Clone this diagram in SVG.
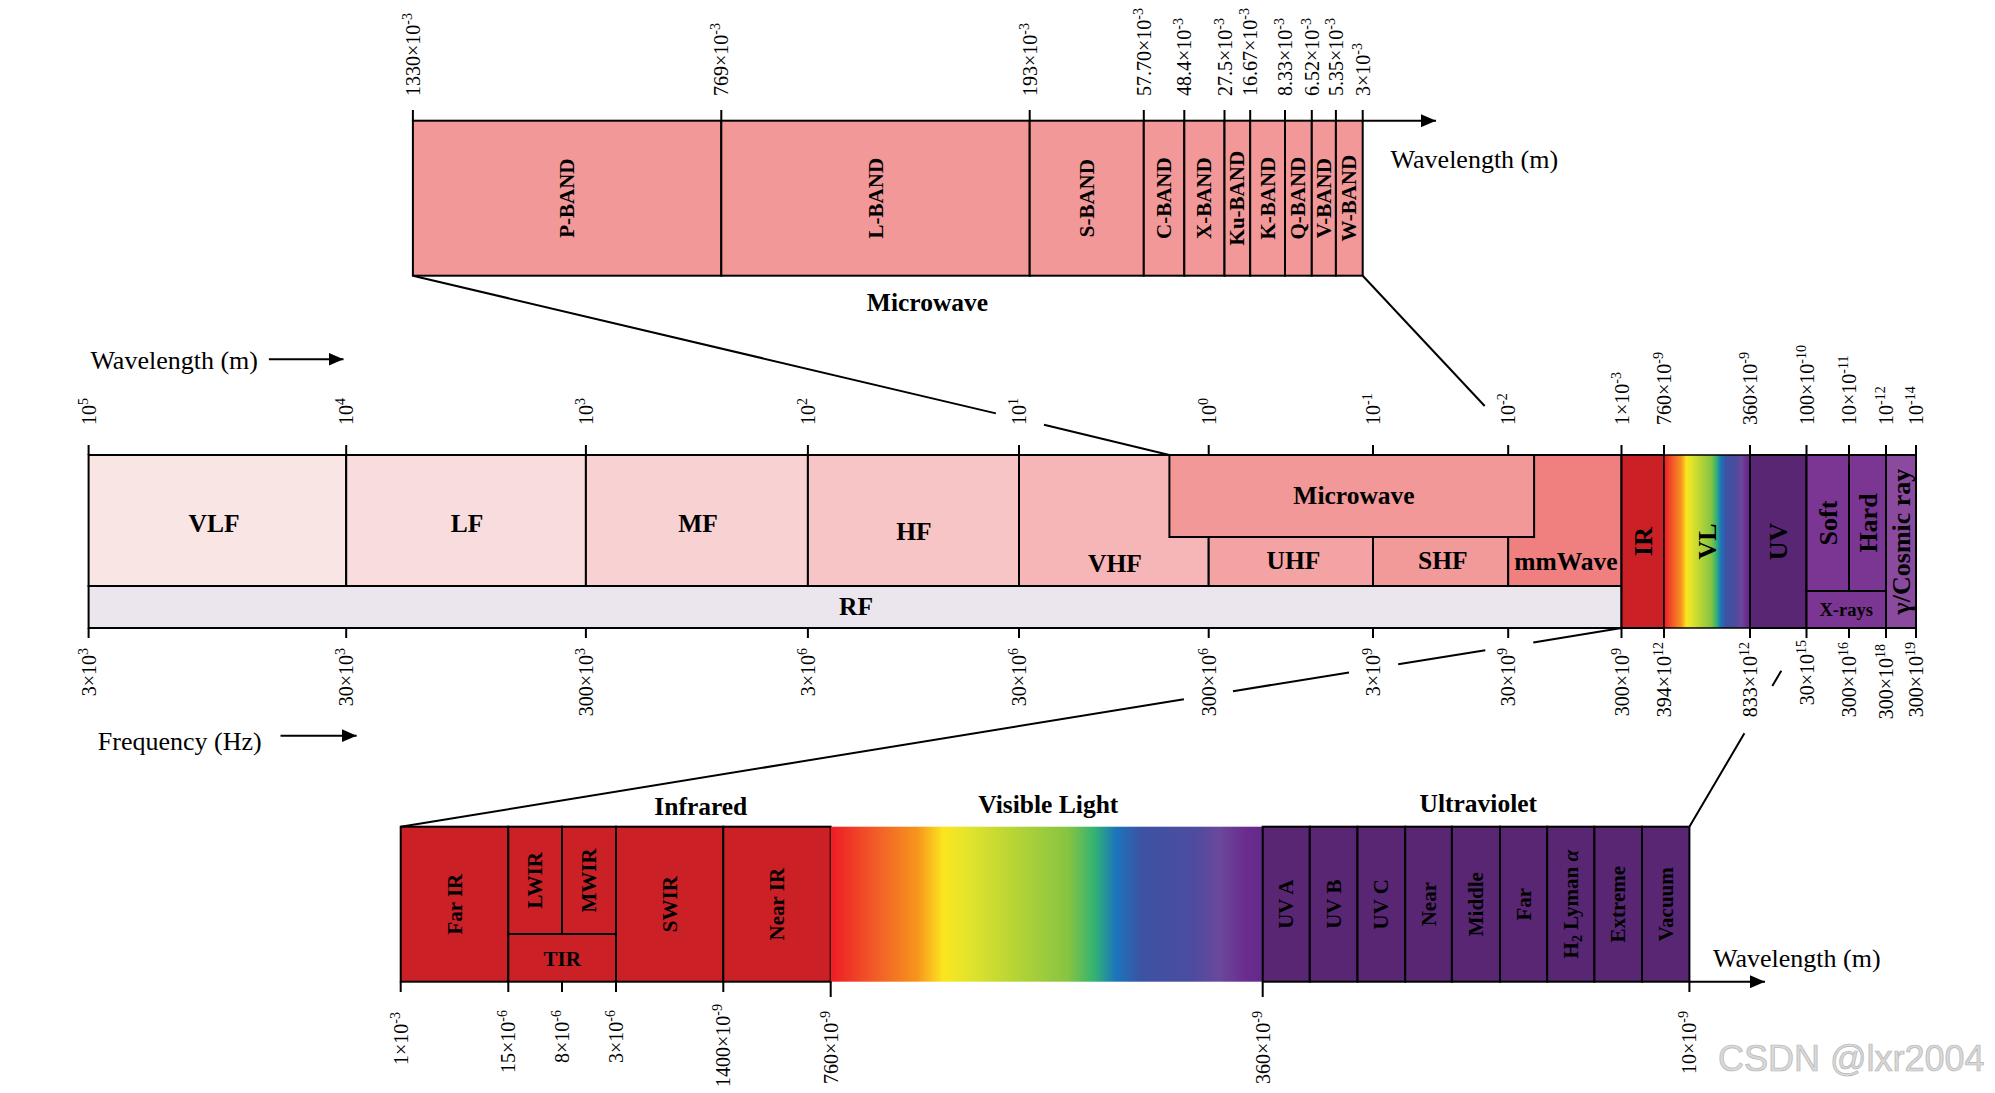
<svg xmlns="http://www.w3.org/2000/svg" width="1995" height="1093" viewBox="0 0 1995 1093">
<defs>
<style>
text{font-family:"Liberation Serif","Times New Roman",serif;fill:#000}
.t{font-size:20px}
.s{font-size:14px}
.b{font-weight:bold;font-size:25.5px}
.bv{font-weight:bold;font-size:21px}
.bm{font-weight:bold;font-size:26px}
.ax{font-size:26px}
text.wm{font-family:"Liberation Sans",Arial,sans-serif;font-size:36px;fill:#D9D9D9;stroke:#B5B5B5;stroke-width:0.7}
.box{stroke:#000;stroke-width:2}
.tk{stroke:#000;stroke-width:2;fill:none}
.cn{stroke:#000;stroke-width:2;fill:none}
.ir{fill:#CC2027}
.uv{fill:#582673}
.xr{fill:#7B3592}
.mw{fill:#F29898}
</style>
<marker id="ah" markerUnits="userSpaceOnUse" markerWidth="15" markerHeight="13" refX="15" refY="6.5" orient="auto">
<path d="M0,0 L15,6.5 L0,13 Z" fill="#000"/>
</marker>
<linearGradient id="vl" x1="0" y1="0" x2="1" y2="0">
<stop offset="0" stop-color="#ED1C24"/>
<stop offset="0.1" stop-color="#F15A29"/>
<stop offset="0.2" stop-color="#F7941D"/>
<stop offset="0.26" stop-color="#FBE51E"/>
<stop offset="0.31" stop-color="#E6E52A"/>
<stop offset="0.42" stop-color="#B9D535"/>
<stop offset="0.55" stop-color="#86C442"/>
<stop offset="0.61" stop-color="#33B372"/>
<stop offset="0.66" stop-color="#1B75BB"/>
<stop offset="0.72" stop-color="#3C52A3"/>
<stop offset="0.84" stop-color="#4D4C9F"/>
<stop offset="0.9" stop-color="#6A489B"/>
<stop offset="0.96" stop-color="#6B2C8E"/>
<stop offset="1" stop-color="#64298D"/>
</linearGradient>
</defs>
<rect width="1995" height="1093" fill="#fff"/>

<!-- ============ TOP: Microwave bands ============ -->
<g id="top-bar">
<g id="p-band"><rect class="box mw" x="412.9" y="120.7" width="308.4" height="155"/><text class="bv" transform="translate(574.1,198.2) rotate(-90)" text-anchor="middle">P-BAND</text></g>
<g id="l-band"><rect class="box mw" x="721.3" y="120.7" width="308.4" height="155"/><text class="bv" transform="translate(882.5,198.2) rotate(-90)" text-anchor="middle">L-BAND</text></g>
<g id="s-band"><rect class="box mw" x="1029.7" y="120.7" width="114.1" height="155"/><text class="bv" transform="translate(1093.8,198.2) rotate(-90)" text-anchor="middle">S-BAND</text></g>
<g id="c-band"><rect class="box mw" x="1143.8" y="120.7" width="40.5" height="155"/><text class="bv" transform="translate(1171,198.2) rotate(-90)" text-anchor="middle">C-BAND</text></g>
<g id="x-band"><rect class="box mw" x="1184.3" y="120.7" width="40.2" height="155"/><text class="bv" transform="translate(1211.4,198.2) rotate(-90)" text-anchor="middle">X-BAND</text></g>
<g id="ku-band"><rect class="box mw" x="1224.5" y="120.7" width="25.7" height="155"/><text class="bv" transform="translate(1244.4,198.2) rotate(-90)" text-anchor="middle">Ku-BAND</text></g>
<g id="k-band"><rect class="box mw" x="1250.2" y="120.7" width="34.8" height="155"/><text class="bv" transform="translate(1274.6,198.2) rotate(-90)" text-anchor="middle">K-BAND</text></g>
<g id="q-band"><rect class="box mw" x="1285" y="120.7" width="26.8" height="155"/><text class="bv" transform="translate(1305.4,198.2) rotate(-90)" text-anchor="middle">Q-BAND</text></g>
<g id="v-band"><rect class="box mw" x="1311.8" y="120.7" width="24.1" height="155"/><text class="bv" transform="translate(1330.9,198.2) rotate(-90)" text-anchor="middle">V-BAND</text></g>
<g id="w-band"><rect class="box mw" x="1335.9" y="120.7" width="26.8" height="155"/><text class="bv" transform="translate(1356.3,198.2) rotate(-90)" text-anchor="middle">W-BAND</text></g>
<text class="b" x="927.5" y="310.5" text-anchor="middle">Microwave</text>
<line class="tk" x1="1362.7" y1="120.7" x2="1436" y2="120.7" marker-end="url(#ah)"/>
<text class="ax" x="1390.6" y="168">Wavelength (m)</text>
<path class="tk" d="M412.9,110V120.7M721.3,110V120.7M1029.7,110V120.7M1143.8,110V120.7M1184.3,110V120.7M1224.5,110V120.7M1250.2,110V120.7M1285,110V120.7M1311.8,110V120.7M1335.9,110V120.7M1362.7,110V120.7"/>
<text class="t" transform="translate(419.9,96) rotate(-90)">1330×10<tspan class="s" dy="-8">-3</tspan></text>
<text class="t" transform="translate(728.3,96) rotate(-90)">769×10<tspan class="s" dy="-8">-3</tspan></text>
<text class="t" transform="translate(1036.7,96) rotate(-90)">193×10<tspan class="s" dy="-8">-3</tspan></text>
<text class="t" transform="translate(1150.8,96) rotate(-90)">57.70×10<tspan class="s" dy="-8">-3</tspan></text>
<text class="t" transform="translate(1191.3,96) rotate(-90)">48.4×10<tspan class="s" dy="-8">-3</tspan></text>
<text class="t" transform="translate(1231.5,96) rotate(-90)">27.5×10<tspan class="s" dy="-8">-3</tspan></text>
<text class="t" transform="translate(1257.2,96) rotate(-90)">16.67×10<tspan class="s" dy="-8">-3</tspan></text>
<text class="t" transform="translate(1292,96) rotate(-90)">8.33×10<tspan class="s" dy="-8">-3</tspan></text>
<text class="t" transform="translate(1318.8,96) rotate(-90)">6.52×10<tspan class="s" dy="-8">-3</tspan></text>
<text class="t" transform="translate(1342.9,96) rotate(-90)">5.35×10<tspan class="s" dy="-8">-3</tspan></text>
<text class="t" transform="translate(1369.7,96) rotate(-90)">3×10<tspan class="s" dy="-8">-3</tspan></text>
</g>

<!-- ============ MIDDLE: full spectrum ============ -->
<g id="axis-labels">
<text class="ax" x="90.4" y="368.5">Wavelength (m)</text>
<line class="tk" x1="268.9" y1="359.3" x2="343.5" y2="359.3" marker-end="url(#ah)"/>
<text class="ax" x="97.8" y="750">Frequency (Hz)</text>
<line class="tk" x1="280.5" y1="735.7" x2="356.6" y2="735.7" marker-end="url(#ah)"/>
</g>
<g id="vlf"><rect class="box" x="88.6" y="455" width="257.6" height="131" fill="#FAE5E5"/><text class="b" x="214" y="532" text-anchor="middle">VLF</text></g>
<g id="lf"><rect class="box" x="346.2" y="455" width="239.7" height="131" fill="#F9DCDD"/><text class="b" x="467" y="532" text-anchor="middle">LF</text></g>
<g id="mf"><rect class="box" x="585.9" y="455" width="222" height="131" fill="#F8D2D2"/><text class="b" x="698" y="532" text-anchor="middle">MF</text></g>
<g id="hf"><rect class="box" x="807.9" y="455" width="211.1" height="131" fill="#F7C5C6"/><text class="b" x="914" y="540" text-anchor="middle">HF</text></g>
<g id="vhf"><rect class="box" x="1019" y="455" width="189.7" height="131" fill="#F6B5B6"/><text class="b" x="1115" y="572" text-anchor="middle">VHF</text></g>
<g id="uhf"><rect class="box" x="1208.7" y="537" width="164.3" height="49" fill="#F4A3A4"/><text class="b" x="1293.5" y="569" text-anchor="middle">UHF</text></g>
<g id="shf"><rect class="box" x="1373" y="537" width="135.2" height="49" fill="#F29999"/><text class="b" x="1442.8" y="569" text-anchor="middle">SHF</text></g>
<g id="mmwave"><rect class="box" x="1508.2" y="455" width="113.3" height="131" fill="#F08080"/><text class="b" x="1566" y="570" text-anchor="middle">mmWave</text></g>
<g id="microwave"><rect class="box mw" x="1169.4" y="455" width="364.7" height="82"/><text class="b" x="1354" y="504" text-anchor="middle">Microwave</text></g>
<g id="rf"><rect class="box" x="88.6" y="586" width="1532.9" height="42" fill="#EBE6EE"/><text class="b" x="856" y="615" text-anchor="middle">RF</text></g>
<g id="ir"><rect class="box ir" x="1621.5" y="455" width="42.5" height="173"/><text class="bm" transform="translate(1651.7,541.5) rotate(-90)" text-anchor="middle">IR</text></g>
<g id="vl"><rect x="1664" y="455" width="86" height="173" fill="url(#vl)" stroke="#000" stroke-width="1.5"/><text class="bm" transform="translate(1716,541.5) rotate(-90)" text-anchor="middle">VL</text></g>
<g id="uv"><rect class="box uv" x="1750" y="455" width="56.5" height="173"/><text class="bm" transform="translate(1787.2,541.5) rotate(-90)" text-anchor="middle">UV</text></g>
<g id="soft"><rect class="box xr" x="1806.5" y="455" width="42.5" height="136"/><text class="bm" transform="translate(1836.7,523) rotate(-90)" text-anchor="middle">Soft</text></g>
<g id="hard"><rect class="box xr" x="1849" y="455" width="37" height="136"/><text class="bm" transform="translate(1876.5,523) rotate(-90)" text-anchor="middle">Hard</text></g>
<g id="x-rays"><rect class="box xr" x="1806.5" y="591" width="79.5" height="37"/><text x="1846.2" y="616" text-anchor="middle" font-weight="bold" font-size="18.5">X-rays</text></g>
<g id="gamma"><rect class="box" x="1886" y="455" width="30" height="173" fill="#8A4B9E"/><text class="bm" transform="translate(1910,541.5) rotate(-90)" text-anchor="middle">γ/Cosmic ray</text></g>
<g id="mid-ticks">
<path class="tk" d="M88.6,445V455M346.2,445V455M585.9,445V455M807.9,445V455M1019,445V455M1208.7,445V455M1373,445V455M1508.2,445V455M1621.5,445V455M1664,445V455M1750,445V455M1806.5,445V455M1849,445V455M1886,445V455M1916,445V455"/>
<path class="tk" d="M88.6,628V638M346.2,628V638M585.9,628V638M807.9,628V638M1019,628V638M1208.7,628V638M1373,628V638M1508.2,628V638M1621.5,628V638M1664,628V638M1750,628V638M1806.5,628V638M1849,628V638M1886,628V638M1916,628V638"/>
<text class="t" transform="translate(95.6,425) rotate(-90)">10<tspan class="s" dy="-8">5</tspan></text>
<text class="t" transform="translate(353.2,425) rotate(-90)">10<tspan class="s" dy="-8">4</tspan></text>
<text class="t" transform="translate(592.9,425) rotate(-90)">10<tspan class="s" dy="-8">3</tspan></text>
<text class="t" transform="translate(814.9,425) rotate(-90)">10<tspan class="s" dy="-8">2</tspan></text>
<text class="t" transform="translate(1026,425) rotate(-90)">10<tspan class="s" dy="-8">1</tspan></text>
<text class="t" transform="translate(1215.7,425) rotate(-90)">10<tspan class="s" dy="-8">0</tspan></text>
<text class="t" transform="translate(1380,425) rotate(-90)">10<tspan class="s" dy="-8">-1</tspan></text>
<text class="t" transform="translate(1515.2,425) rotate(-90)">10<tspan class="s" dy="-8">-2</tspan></text>
<text class="t" transform="translate(1628.5,425) rotate(-90)">1×10<tspan class="s" dy="-8">-3</tspan></text>
<text class="t" transform="translate(1671,425) rotate(-90)">760×10<tspan class="s" dy="-8">-9</tspan></text>
<text class="t" transform="translate(1757,425) rotate(-90)">360×10<tspan class="s" dy="-8">-9</tspan></text>
<text class="t" transform="translate(1813.5,425) rotate(-90)">100×10<tspan class="s" dy="-8">-10</tspan></text>
<text class="t" transform="translate(1856,425) rotate(-90)">10×10<tspan class="s" dy="-8">-11</tspan></text>
<text class="t" transform="translate(1893,425) rotate(-90)">10<tspan class="s" dy="-8">-12</tspan></text>
<text class="t" transform="translate(1923,425) rotate(-90)">10<tspan class="s" dy="-8">-14</tspan></text>
<g text-anchor="end">
<text class="t" transform="translate(95.6,648) rotate(-90)">3×10<tspan class="s" dy="-8">3</tspan></text>
<text class="t" transform="translate(353.2,648) rotate(-90)">30×10<tspan class="s" dy="-8">3</tspan></text>
<text class="t" transform="translate(592.9,648) rotate(-90)">300×10<tspan class="s" dy="-8">3</tspan></text>
<text class="t" transform="translate(814.9,648) rotate(-90)">3×10<tspan class="s" dy="-8">6</tspan></text>
<text class="t" transform="translate(1026,648) rotate(-90)">30×10<tspan class="s" dy="-8">6</tspan></text>
<text class="t" transform="translate(1215.7,648) rotate(-90)">300×10<tspan class="s" dy="-8">6</tspan></text>
<text class="t" transform="translate(1380,648) rotate(-90)">3×10<tspan class="s" dy="-8">9</tspan></text>
<text class="t" transform="translate(1515.2,648) rotate(-90)">30×10<tspan class="s" dy="-8">9</tspan></text>
<text class="t" transform="translate(1628.5,648) rotate(-90)">300×10<tspan class="s" dy="-8">9</tspan></text>
<text class="t" transform="translate(1671,642) rotate(-90)">394×10<tspan class="s" dy="-8">12</tspan></text>
<text class="t" transform="translate(1757,642) rotate(-90)">833×10<tspan class="s" dy="-8">12</tspan></text>
<text class="t" transform="translate(1813.5,640) rotate(-90)">30×10<tspan class="s" dy="-8">15</tspan></text>
<text class="t" transform="translate(1856,642) rotate(-90)">300×10<tspan class="s" dy="-8">16</tspan></text>
<text class="t" transform="translate(1893,644) rotate(-90)">300×10<tspan class="s" dy="-8">18</tspan></text>
<text class="t" transform="translate(1923,642) rotate(-90)">300×10<tspan class="s" dy="-8">19</tspan></text>
</g>
</g>

<!-- ============ BOTTOM: IR / VL / UV ============ -->
<g id="far-ir"><rect class="box ir" x="400.7" y="826.7" width="107.6" height="155"/><text class="bv" transform="translate(461.5,904.2) rotate(-90)" text-anchor="middle">Far IR</text></g>
<g id="lwir"><rect class="box ir" x="508.3" y="826.7" width="53.7" height="107.3"/><text class="bv" transform="translate(542.2,880.4) rotate(-90)" text-anchor="middle">LWIR</text></g>
<g id="mwir"><rect class="box ir" x="562" y="826.7" width="54" height="107.3"/><text class="bv" transform="translate(596,880.4) rotate(-90)" text-anchor="middle">MWIR</text></g>
<g id="tir"><rect class="box ir" x="508.3" y="934" width="107.7" height="47.7"/><text x="562.2" y="965.7" text-anchor="middle" font-weight="bold" font-size="21">TIR</text></g>
<g id="swir"><rect class="box ir" x="616" y="826.7" width="107.3" height="155"/><text class="bv" transform="translate(676.7,904.2) rotate(-90)" text-anchor="middle">SWIR</text></g>
<g id="near-ir"><rect class="box ir" x="723.3" y="826.7" width="107.4" height="155"/><text class="bv" transform="translate(784,904.2) rotate(-90)" text-anchor="middle">Near IR</text></g>
<g id="visible-light"><rect x="830.7" y="826.7" width="432" height="155" fill="url(#vl)"/></g>
<g id="uv-a"><rect class="box uv" x="1262.7" y="826.7" width="47.1" height="155"/><text class="bv" transform="translate(1293.3,904.2) rotate(-90)" text-anchor="middle">UV A</text></g>
<g id="uv-b"><rect class="box uv" x="1309.8" y="826.7" width="47.7" height="155"/><text class="bv" transform="translate(1340.7,904.2) rotate(-90)" text-anchor="middle">UV B</text></g>
<g id="uv-c"><rect class="box uv" x="1357.5" y="826.7" width="47.7" height="155"/><text class="bv" transform="translate(1388.4,904.2) rotate(-90)" text-anchor="middle">UV C</text></g>
<g id="near-uv"><rect class="box uv" x="1405.2" y="826.7" width="46.7" height="155"/><text class="bv" transform="translate(1435.6,904.2) rotate(-90)" text-anchor="middle">Near</text></g>
<g id="middle-uv"><rect class="box uv" x="1451.9" y="826.7" width="48.1" height="155"/><text class="bv" transform="translate(1483,904.2) rotate(-90)" text-anchor="middle">Middle</text></g>
<g id="far-uv"><rect class="box uv" x="1500" y="826.7" width="47.2" height="155"/><text class="bv" transform="translate(1530.6,904.2) rotate(-90)" text-anchor="middle">Far</text></g>
<g id="h2-lyman"><rect class="box uv" x="1547.2" y="826.7" width="47.2" height="155"/><text class="bv" transform="translate(1577.8,904.2) rotate(-90)" text-anchor="middle">H<tspan font-size="14" dy="4">2</tspan><tspan dy="-4"> Lyman </tspan><tspan font-style="italic">α</tspan></text></g>
<g id="extreme-uv"><rect class="box uv" x="1594.4" y="826.7" width="47.6" height="155"/><text class="bv" transform="translate(1625.2,904.2) rotate(-90)" text-anchor="middle">Extreme</text></g>
<g id="vacuum-uv"><rect class="box uv" x="1642" y="826.7" width="47.4" height="155"/><text class="bv" transform="translate(1672.7,904.2) rotate(-90)" text-anchor="middle">Vacuum</text></g>
<g id="bottom-titles">
<text class="b" x="700.8" y="815" text-anchor="middle">Infrared</text>
<text class="b" x="1048.3" y="813.3" text-anchor="middle">Visible Light</text>
<text class="b" x="1478.3" y="811.7" text-anchor="middle">Ultraviolet</text>
<text class="ax" x="1713" y="967">Wavelength (m)</text>
<line class="tk" x1="1689.4" y1="981.7" x2="1765" y2="981.7" marker-end="url(#ah)"/>
</g>
<g id="bottom-ticks">
<path class="tk" d="M400.7,981.7V992M508.3,981.7V992M562,981.7V992M616,981.7V992M723.3,981.7V992M830.7,981.7V997M1262.7,981.7V997M1689.4,981.7V992"/>
<g text-anchor="end">
<text class="t" transform="translate(407.7,1012) rotate(-90)">1×10<tspan class="s" dy="-8">-3</tspan></text>
<text class="t" transform="translate(515.3,1010) rotate(-90)">15×10<tspan class="s" dy="-8">-6</tspan></text>
<text class="t" transform="translate(569,1010) rotate(-90)">8×10<tspan class="s" dy="-8">-6</tspan></text>
<text class="t" transform="translate(623,1010) rotate(-90)">3×10<tspan class="s" dy="-8">-6</tspan></text>
<text class="t" transform="translate(730.3,1004) rotate(-90)">1400×10<tspan class="s" dy="-8">-9</tspan></text>
<text class="t" transform="translate(837.7,1011) rotate(-90)">760×10<tspan class="s" dy="-8">-9</tspan></text>
<text class="t" transform="translate(1269.7,1011) rotate(-90)">360×10<tspan class="s" dy="-8">-9</tspan></text>
<text class="t" transform="translate(1696.4,1011) rotate(-90)">10×10<tspan class="s" dy="-8">-9</tspan></text>
</g>
</g>

<!-- ============ Connectors ============ -->
<g id="connectors">
<path class="cn" d="M412.9,275.7L995.9,413.4M1044,424.8L1169.4,455"/>
<path class="cn" d="M1362.7,275.7L1484.7,406"/>
<path class="cn" d="M1621.5,628L1533.3,642.4M1485.3,650.2L1398.2,664.3M1349,672.4L1233,691.2M1183.9,699.2L400.7,826.7"/>
<path class="cn" d="M1689.4,826.7L1744.4,733.3M1772.3,686L1781.3,670.7"/>
</g>

<text class="wm" x="1718" y="1071">CSDN @lxr2004</text>
</svg>
